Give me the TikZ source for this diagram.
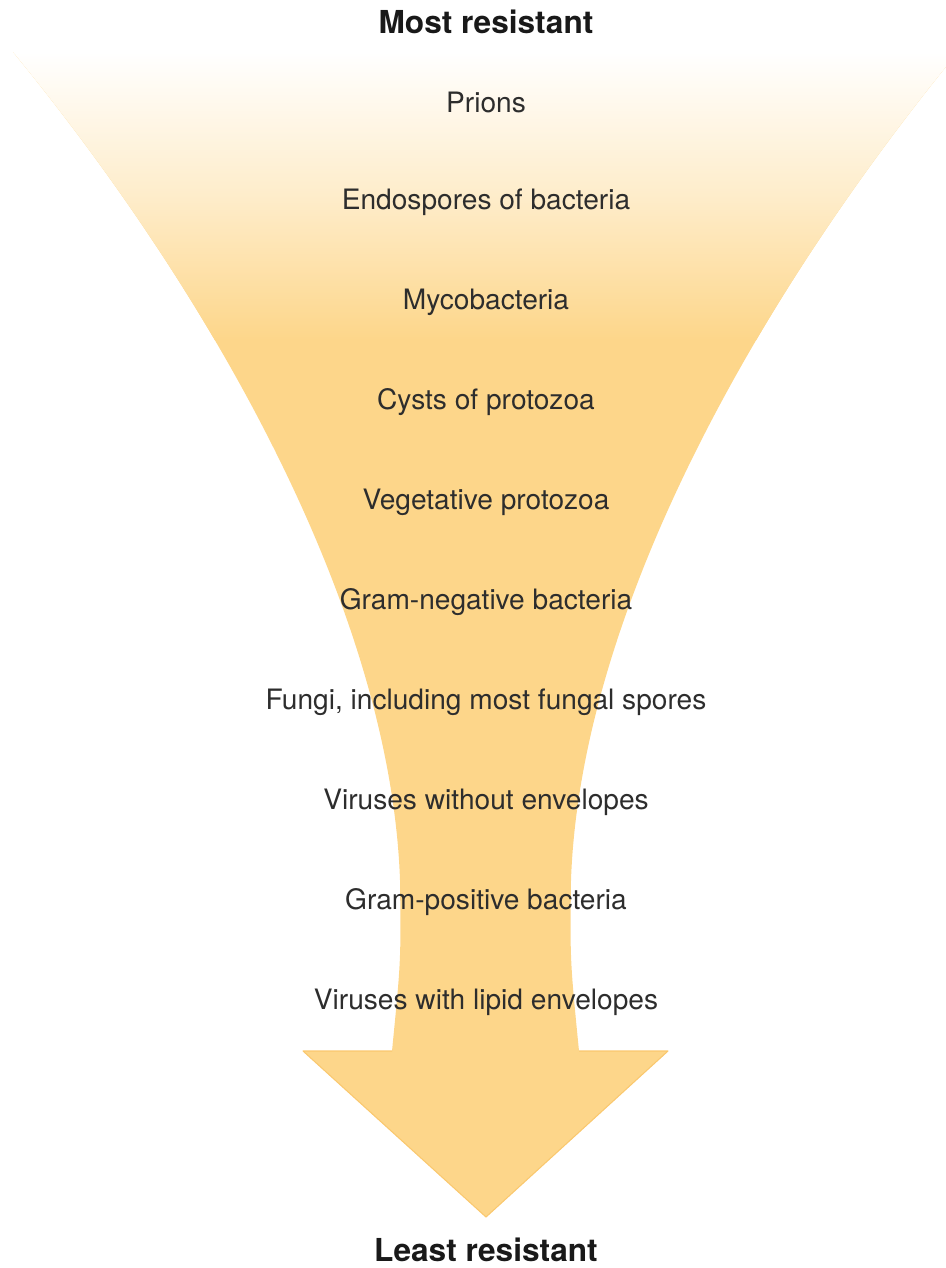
\documentclass[tikz,border=0pt]{standalone}
\usepackage{fontspec}
\setmainfont{TeX Gyre Heros}
\usetikzlibrary{positioning}
\definecolor{funnelorange}{RGB}{253,214,138}
\definecolor{edgeorange}{RGB}{250,200,110}
\definecolor{labelgray}{RGB}{45,45,45}
\definecolor{titleblack}{RGB}{25,25,25}

\begin{document}
\begin{tikzpicture}[x=0.02cm, y=-0.02cm,
  item/.style={text=labelgray, font=\fontsize{16}{19}\selectfont, inner sep=0pt},
  endlabel/.style={text=titleblack, font=\fontsize{18}{21}\selectfont\bfseries, inner sep=0pt}]

  % --- Canvas ---
  \useasboundingbox (0,0) rectangle (946,1268);

  % --- Funnel outline ---
  \def\funnel{(13,52) .. controls (200,280) and (390,600) .. (400,880)
    .. controls (401,960) .. (392,1051) -- (303,1051) -- (486,1217)
    -- (668,1051) -- (579,1051) .. controls (570,960) .. (571,880)
    .. controls (581,600) and (771,280) .. (958,52) -- cycle}

  \begin{scope}
    \clip (0,0) rectangle (946,1268);
    \clip \funnel;
    \fill[funnelorange] (0,0) rectangle (946,1268);
    % fade to white at the top
    \shade[top color=white, bottom color=funnelorange,
      middle color=funnelorange!45] (0,52) rectangle (946,340);
  \end{scope}

  % --- Arrow head edge ---
  \draw[edgeorange, line width=0.6pt, line join=round]
    (392,1051) -- (303,1051) -- (486,1217) -- (668,1051) -- (579,1051);

  % --- Titles ---
  \node[endlabel] (most) at (486,22) {Most resistant};
  \node[endlabel] (least) at (486,1250) {Least resistant};

  % --- Organisms, most to least resistant ---
  \node[item] (prions)   at (486,102)  {Prions};
  \node[item] (endo)     at (486,202)  {Endospores of bacteria};
  \node[item] (myco)     at (486,302)  {Mycobacteria};
  \node[item] (cysts)    at (486,402)  {Cysts of protozoa};
  \node[item] (vegproto) at (486,502)  {Vegetative protozoa};
  \node[item] (gramneg)  at (486,602)  {Gram-negative bacteria};
  \node[item] (fungi)    at (486,702)  {Fungi, including most fungal spores};
  \node[item] (nakedvir) at (486,802)  {Viruses without envelopes};
  \node[item] (grampos)  at (486,902)  {Gram-positive bacteria};
  \node[item] (lipidvir) at (486,1002) {Viruses with lipid envelopes};

\end{tikzpicture}
\end{document}
